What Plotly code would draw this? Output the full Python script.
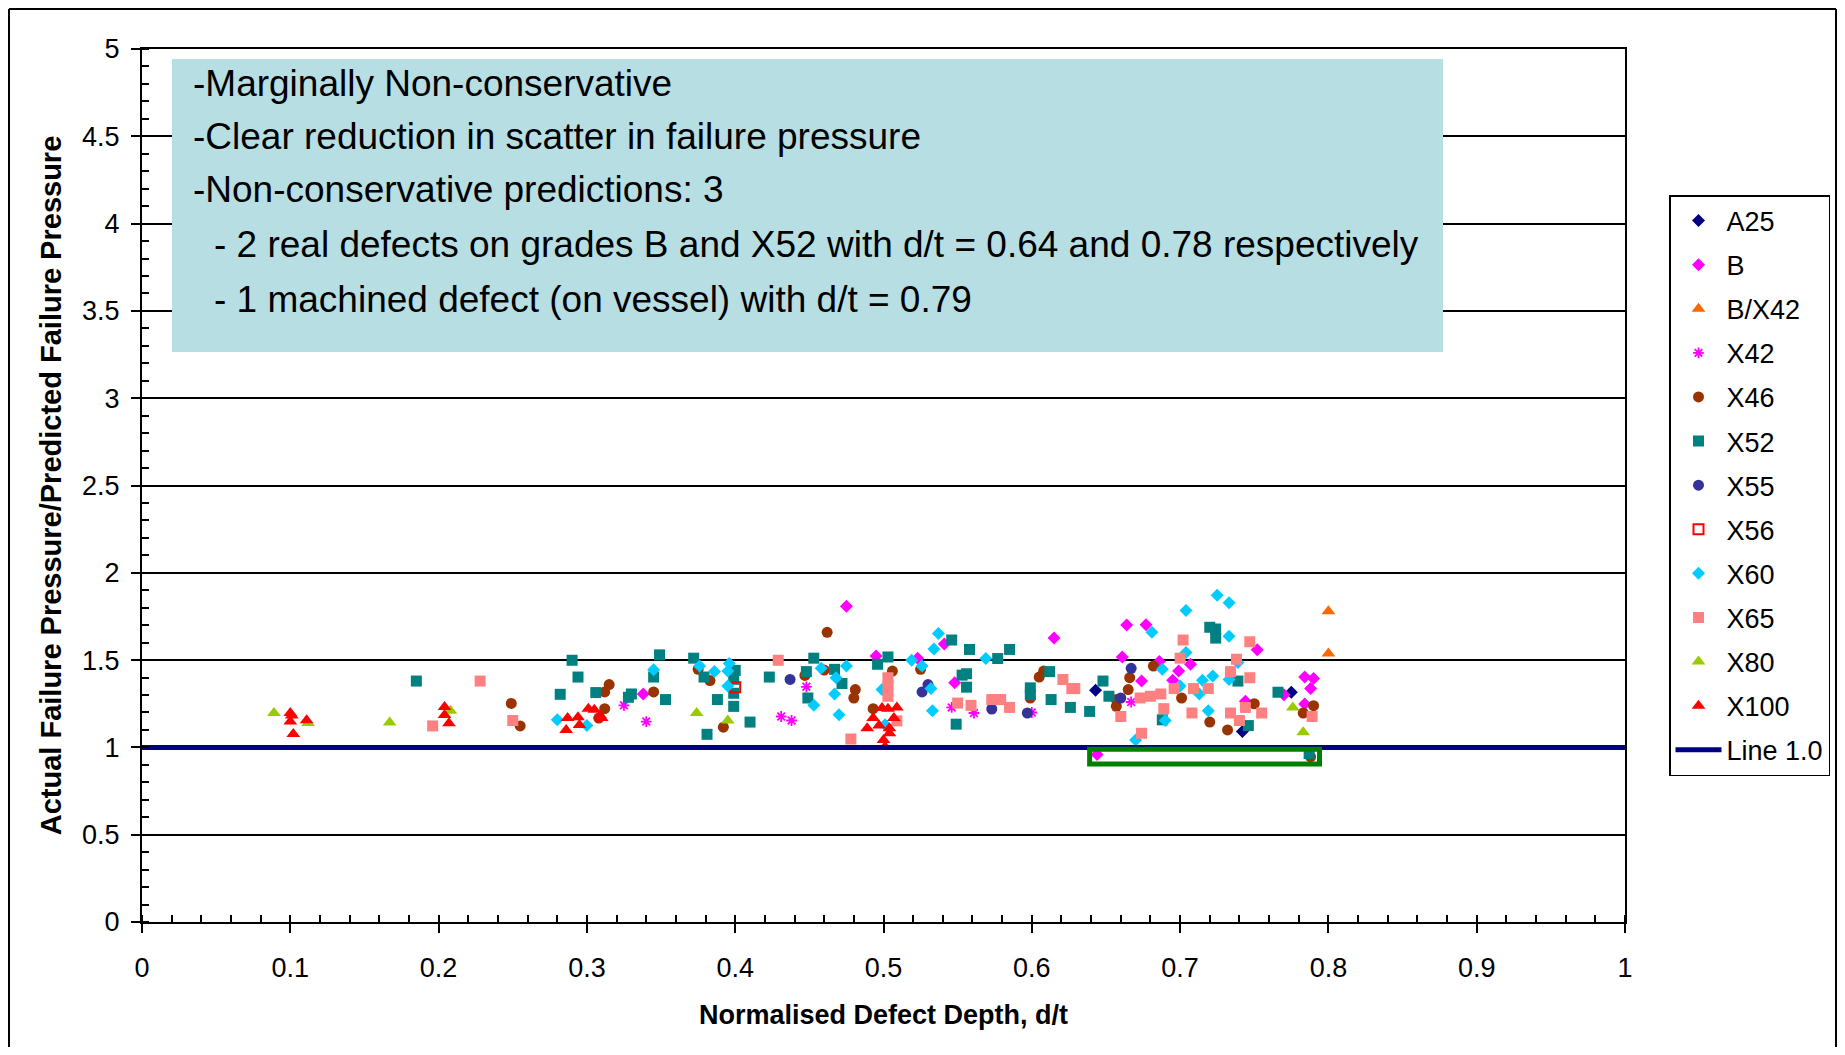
import plotly.graph_objects as go

# ---------------- data ----------------
a25_x = [0.643, 0.742, 0.775]
a25_y = [1.328, 1.091, 1.316]

b_x = [0.338, 0.475, 0.495, 0.523, 0.541, 0.548, 0.615, 0.644, 0.661, 0.664, 0.674, 0.677,
       0.686, 0.695, 0.699, 0.707, 0.744, 0.752, 0.770, 0.784, 0.790, 0.788, 0.784]
b_y = [1.306, 1.809, 1.524, 1.511, 1.592, 1.370, 1.626, 0.960, 1.518, 1.701, 1.380, 1.703,
       1.492, 1.384, 1.437, 1.476, 1.264, 1.559, 1.302, 1.403, 1.395, 1.337, 1.249]

bx42_x = [0.800, 0.800]
bx42_y = [1.780, 1.538]

x42_x = [0.325, 0.340, 0.431, 0.438, 0.448, 0.546, 0.561, 0.600, 0.667]
x42_y = [1.241, 1.148, 1.177, 1.154, 1.347, 1.229, 1.197, 1.200, 1.260]

x46_x = [0.249, 0.255, 0.308, 0.312, 0.315, 0.312, 0.345, 0.375, 0.383, 0.392, 0.447, 0.460,
         0.462, 0.481, 0.480, 0.493, 0.506, 0.525, 0.599, 0.605, 0.608, 0.657, 0.657, 0.666,
         0.665, 0.682, 0.701, 0.720, 0.732, 0.750, 0.783, 0.790, 0.788]
x46_y = [1.252, 1.123, 1.168, 1.318, 1.360, 1.222, 1.318, 1.447, 1.383, 1.116, 1.412, 1.443,
         1.659, 1.331, 1.283, 1.222, 1.437, 1.447, 1.283, 1.403, 1.437, 1.274, 1.235, 1.399,
         1.331, 1.466, 1.283, 1.145, 1.100, 1.250, 1.197, 1.239, 0.946]

x52_x = [0.185, 0.282, 0.290, 0.294, 0.306, 0.328, 0.330, 0.345, 0.349, 0.353, 0.372, 0.379,
         0.381, 0.388, 0.400, 0.399, 0.399, 0.399, 0.410, 0.423, 0.449, 0.448, 0.453, 0.467,
         0.472, 0.496, 0.503, 0.546, 0.553, 0.556, 0.556, 0.558, 0.549, 0.577, 0.585, 0.599,
         0.599, 0.612, 0.613, 0.626, 0.639, 0.648, 0.652, 0.688, 0.720, 0.724, 0.724, 0.739,
         0.746, 0.766, 0.787]
x52_y = [1.380, 1.304, 1.499, 1.403, 1.314, 1.287, 1.306, 1.403, 1.530, 1.274, 1.511, 1.403,
         1.075, 1.274, 1.441, 1.390, 1.310, 1.235, 1.145, 1.403, 1.283, 1.434, 1.511, 1.447,
         1.366, 1.476, 1.518, 1.615, 1.414, 1.422, 1.345, 1.561, 1.133, 1.509, 1.561, 1.341,
         1.302, 1.434, 1.274, 1.229, 1.206, 1.380, 1.293, 1.158, 1.688, 1.678, 1.626, 1.380,
         1.125, 1.316, 0.965]

x55_x = [0.437, 0.526, 0.530, 0.573, 0.597, 0.660, 0.667]
x55_y = [1.389, 1.318, 1.360, 1.220, 1.197, 1.283, 1.453]

x56_x = [0.400]
x56_y = [1.345]

x60_x = [0.280, 0.300, 0.345, 0.376, 0.386, 0.396, 0.395, 0.395, 0.453, 0.458, 0.468, 0.475,
         0.467, 0.470, 0.499, 0.501, 0.519, 0.526, 0.532, 0.533, 0.534, 0.537, 0.569, 0.670,
         0.681, 0.688, 0.690, 0.700, 0.704, 0.704, 0.713, 0.715, 0.719, 0.722, 0.725, 0.733,
         0.733, 0.733, 0.739]
x60_y = [1.158, 1.125, 1.445, 1.466, 1.434, 1.480, 1.437, 1.351, 1.241, 1.453, 1.399, 1.466,
         1.306, 1.187, 1.331, 1.130, 1.499, 1.466, 1.337, 1.210, 1.563, 1.653, 1.509, 1.042,
         1.659, 1.448, 1.154, 1.351, 1.784, 1.543, 1.306, 1.384, 1.210, 1.409, 1.871, 1.829,
         1.636, 1.389, 1.486]

x65_x = [0.196, 0.228, 0.250, 0.429, 0.478, 0.503, 0.503, 0.503, 0.509, 0.550, 0.559, 0.573,
         0.579, 0.585, 0.621, 0.627, 0.629, 0.660, 0.673, 0.680, 0.674, 0.687, 0.689, 0.696,
         0.700, 0.702, 0.708, 0.709, 0.719, 0.734, 0.738, 0.734, 0.740, 0.744, 0.747, 0.747,
         0.755, 0.789]
x65_y = [1.123, 1.380, 1.154, 1.499, 1.048, 1.399, 1.351, 1.293, 1.152, 1.254, 1.241, 1.274,
         1.274, 1.229, 1.389, 1.337, 1.337, 1.177, 1.283, 1.293, 1.081, 1.306, 1.222, 1.337,
         1.511, 1.615, 1.197, 1.337, 1.337, 1.434, 1.505, 1.197, 1.154, 1.229, 1.605, 1.399,
         1.197, 1.177]

x80_x = [0.089, 0.112, 0.167, 0.208, 0.374, 0.395, 0.776, 0.783]
x80_y = [1.197, 1.140, 1.143, 1.210, 1.197, 1.154, 1.229, 1.087]

x100_x = [0.100, 0.101, 0.100, 0.111, 0.102, 0.204, 0.204, 0.207, 0.287, 0.286, 0.294, 0.295,
          0.301, 0.305, 0.309, 0.310, 0.489, 0.493, 0.497, 0.499, 0.503, 0.509, 0.504, 0.504,
          0.500, 0.501, 0.507]
x100_y = [1.197, 1.183, 1.148, 1.155, 1.077, 1.231, 1.186, 1.138, 1.168, 1.100, 1.173, 1.129,
          1.222, 1.216, 1.183, 1.168, 1.110, 1.168, 1.125, 1.225, 1.222, 1.229, 1.110, 1.081,
          1.042, 1.004, 1.168]

line_x = [0, 1]
line_y = [1.0, 1.0]

# highlighted non-conservative region (green box)
box_x = [0.639, 0.794]
box_y = [0.905, 0.99]

note_lines = [
    "-Marginally Non-conservative",
    "-Clear reduction in scatter in failure pressure",
    "-Non-conservative predictions: 3",
    "- 2 real defects on grades B and X52 with d/t = 0.64 and 0.78 respectively",
    "- 1 machined defect (on vessel) with d/t = 0.79",
]

# ---------------- figure ----------------
OFF = 8                      # page body margin around the plot div
W, H = 1845 - 2 * OFF, 1055 - 2 * OFF
PW, PH = 1483, 873
L, T = 142 - OFF, 49 - OFF
R, B = W - L - PW, H - T - PH


def px_x(p):
    # screenshot pixel -> paper x
    return (p - 142) / PW


def px_y(p):
    # screenshot pixel -> paper y
    return (922 - p) / PH


FONT = "Liberation Sans, Arial, sans-serif"

series = [
    ("A25", a25_x, a25_y, dict(symbol="diamond", size=10, color="#000080")),
    ("B", b_x, b_y, dict(symbol="diamond", size=10, color="#FF00FF")),
    ("B/X42", bx42_x, bx42_y, dict(symbol="triangle-up", size=12, color="#FF6600")),
    ("X42", x42_x, x42_y, dict(symbol="asterisk-open", size=9, color="#FF00FF",
                              line=dict(color="#FF00FF", width=1.8))),
    ("X46", x46_x, x46_y, dict(symbol="circle", size=11, color="#993300")),
    ("X52", x52_x, x52_y, dict(symbol="square", size=11, color="#008080")),
    ("X55", x55_x, x55_y, dict(symbol="circle", size=11, color="#333399")),
    ("X56", x56_x, x56_y, dict(symbol="square-open", size=10, color="#FF0000",
                              line=dict(color="#FF0000", width=2))),
    ("X60", x60_x, x60_y, dict(symbol="diamond", size=10, color="#00CCFF")),
    ("X65", x65_x, x65_y, dict(symbol="square", size=11, color="#FF8080")),
    ("X80", x80_x, x80_y, dict(symbol="triangle-up", size=12, color="#99CC00")),
    ("X100", x100_x, x100_y, dict(symbol="triangle-up", size=12, color="#FF0000")),
]

fig = go.Figure()
for name, xs, ys, mk in series:
    fig.add_trace(go.Scatter(x=xs, y=ys, mode="markers", name=name, marker=mk,
                             legendgroup=name))
fig.add_trace(go.Scatter(x=line_x, y=line_y, mode="lines", name="Line 1.0",
                         line=dict(color="#000080", width=5), legendgroup="line"))

bx0, bx1 = px_x(OFF + 1), px_x(OFF + W - 1)
by_top, by_bot = px_y(OFF + 1), px_y(OFF + H)
border = dict(color="black", width=2)
shapes = [
    # note box
    dict(type="rect", xref="paper", yref="paper", x0=px_x(172), x1=px_x(1443),
         y0=px_y(352), y1=px_y(59), fillcolor="#B7DEE3", line=dict(width=0), layer="above"),
    # green highlight box
    dict(type="rect", xref="x", yref="y", x0=box_x[0], x1=box_x[1], y0=box_y[0], y1=box_y[1],
         line=dict(color="#008000", width=5), fillcolor="rgba(0,0,0,0)", layer="above"),
    # chart-area border (left, top, right)
    dict(type="line", xref="paper", yref="paper", x0=bx0, x1=bx0, y0=by_bot, y1=by_top,
         line=border, layer="above"),
    dict(type="line", xref="paper", yref="paper", x0=bx0, x1=bx1, y0=by_top, y1=by_top,
         line=border, layer="above"),
    dict(type="line", xref="paper", yref="paper", x0=bx1, x1=bx1, y0=by_bot, y1=by_top,
         line=border, layer="above"),
]

line_px_y = [84, 137, 190, 245, 299]
line_px_x = [191, 191, 191, 212, 212]
annotations = []
for txt, lx, ly in zip(note_lines, line_px_x, line_px_y):
    annotations.append(dict(text=txt, xref="paper", yref="paper", x=px_x(lx), y=px_y(ly),
                            xanchor="left", yanchor="middle", showarrow=False,
                            font=dict(family=FONT, size=37, color="black")))

fig.update_layout(
    width=W, height=H,
    margin=dict(l=L, r=R, t=T, b=B, autoexpand=False),
    paper_bgcolor="white", plot_bgcolor="white",
    font=dict(family=FONT, size=27, color="black"),
    shapes=shapes, annotations=annotations,
    showlegend=True,
    legend=dict(x=px_x(1669), y=px_y(195), xanchor="left", yanchor="top",
                bgcolor="white", bordercolor="black", borderwidth=1.5,
                font=dict(family=FONT, size=27, color="black"),
                tracegroupgap=6, itemwidth=46),
)

fig.update_xaxes(
    range=[0, 1], dtick=0.1, tick0=0, showgrid=False, zeroline=False,
    showline=True, linecolor="black", linewidth=2, mirror=True,
    ticks="outside", ticklen=9, tickwidth=1.5, tickcolor="black",
    minor=dict(ticks="inside", dtick=0.02, ticklen=7, tickwidth=1.5, tickcolor="black"),
    ticklabelstandoff=12,
    tickfont=dict(family=FONT, size=27),
    title=dict(text="<b>Normalised Defect Depth, d/t</b>", standoff=23,
               font=dict(family=FONT, size=27)),
)
fig.update_yaxes(
    range=[0, 5], dtick=0.5, tick0=0, showgrid=True, gridcolor="black", gridwidth=1.8,
    zeroline=False,
    showline=True, linecolor="black", linewidth=2, mirror=True,
    ticks="outside", ticklen=9, tickwidth=1.5, tickcolor="black",
    minor=dict(ticks="inside", dtick=0.1, ticklen=7, tickwidth=1.5, tickcolor="black",
               showgrid=False),
    ticklabelstandoff=6,
    tickfont=dict(family=FONT, size=27),
    title=dict(text="<b>Actual Failure Pressure/Predicted Failure Pressure</b>", standoff=12,
               font=dict(family=FONT, size=29)),
)

fig.write_html("out.html")
